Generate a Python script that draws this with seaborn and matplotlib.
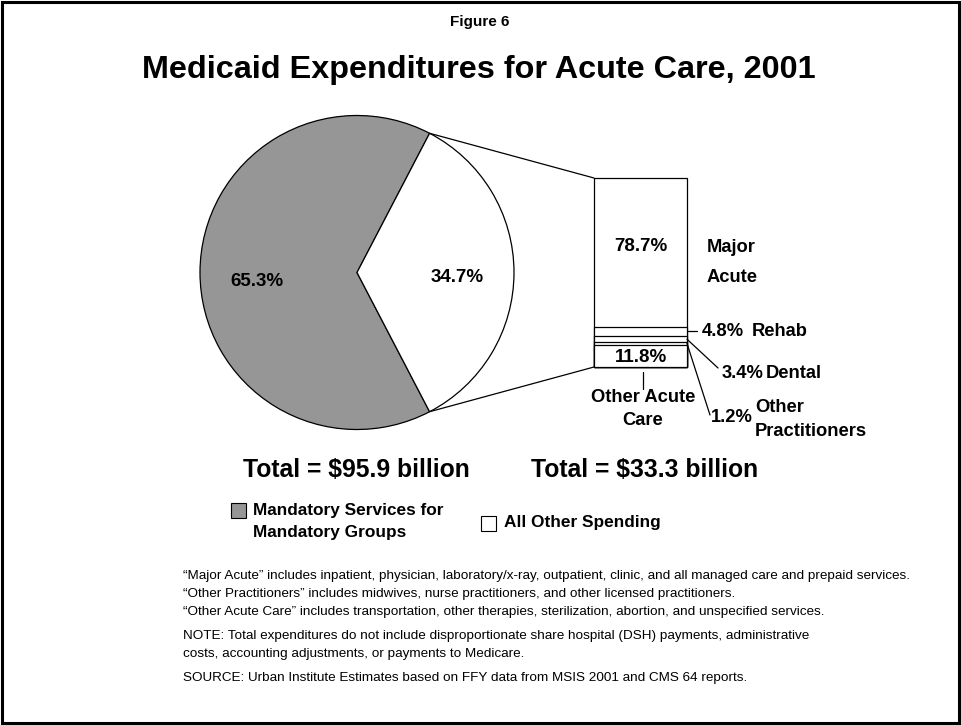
import numpy as np
import matplotlib
matplotlib.use("Agg")
import matplotlib.pyplot as plt
from matplotlib.patches import Rectangle, ConnectionPatch
from matplotlib.lines import Line2D
import seaborn as sns

# Split of total Medicaid acute care spending (pie)
pie_labels = ["Mandatory Services for\nMandatory Groups", "All Other Spending"]
pie_shares = [65.3, 34.7]
pie_total = 95.9

# Breakdown of "All Other Spending" (stacked bar, bottom to top)
bar_categories = ["Other Acute Care", "Other Practitioners", "Dental", "Rehab", "Major Acute"]
bar_shares = [11.8, 1.2, 3.4, 4.8, 78.7]
bar_total = 33.3

footnotes = [
    "\u201cMajor Acute\u201d includes inpatient, physician, laboratory/x-ray, outpatient, clinic, and all managed care and prepaid services.",
    "\u201cOther Practitioners\u201d includes midwives, nurse practitioners, and other licensed practitioners.",
    "\u201cOther Acute Care\u201d includes transportation, other therapies, sterilization, abortion, and unspecified services.",
    "NOTE: Total expenditures do not include disproportionate share hospital (DSH) payments, administrative",
    "costs, accounting adjustments, or payments to Medicare.",
    "SOURCE: Urban Institute Estimates based on FFY data from MSIS 2001 and CMS 64 reports.",
]

GRAY = "#969696"

sns.set_theme(style="white")
plt.rcParams["font.family"] = ["Liberation Sans", "DejaVu Sans"]

W, H = 961, 725
fig = plt.figure(figsize=(W / 100, H / 100), dpi=100)
fig.patch.set_facecolor("white")


def fx(x):
    return x / W


def fy(y):
    return 1 - y / H


def txt(x, y, s, size, ha="left", weight="bold", **kw):
    fig.text(fx(x), fy(y), s, fontsize=size, ha=ha, va="center",
             fontweight=weight, color="black", **kw)


def seg(p0, p1, lw=0.9):
    fig.add_artist(Line2D([fx(p0[0]), fx(p1[0])], [fy(p0[1]), fy(p1[1])],
                          transform=fig.transFigure, color="black", lw=lw))


# Outer frame
fig.add_artist(Rectangle((fx(1.5), fy(722.5)), fx(957), 1 - fy(721),
                         transform=fig.transFigure, fill=False,
                         edgecolor="black", lw=2.2))

# Titles
txt(480, 22, "Figure 6", 11, ha="center")
txt(479, 70, "Medicaid Expenditures for Acute Care, 2001", 23.3, ha="center")

# ---- Pie ----
R, cx, cy = 157, 357, 272.5
half = R * 1.1
pax = fig.add_axes([fx(cx - half), fy(cy + half), 2 * half / W, 2 * half / H])
start = pie_shares[1] / 100 * 180
wedges, _, autotexts = pax.pie(
    pie_shares, colors=[GRAY, "white"], startangle=start, counterclock=True,
    radius=1, autopct="%.1f%%", pctdistance=0.64,
    wedgeprops=dict(edgecolor="black", linewidth=0.9),
    textprops=dict(fontsize=13.5, fontweight="bold", color="black"))
pax.set_xlim(-1.1, 1.1)
pax.set_ylim(-1.1, 1.1)
pax.set_aspect("equal")
pax.axis("off")
for t, dy in zip(autotexts, [0.06, 0.03]):
    x, y = t.get_position()
    t.set_position((x, y - dy))

# ---- Stacked bar ----
bx0, bx1, by0, by1 = 594, 687, 178, 367
bax = fig.add_axes([fx(bx0), fy(by1), (bx1 - bx0) / W, (by1 - by0) / H])
cum = np.cumsum(bar_shares)
for top in cum[::-1]:
    sns.barplot(x=["All Other Spending"], y=[top], ax=bax, color="white",
                saturation=1, width=1, edgecolor="black", linewidth=0.9,
                errorbar=None, clip_on=False)
bax.set_xlim(-0.5, 0.5)
bax.set_ylim(0, cum[-1])
bax.axis("off")


def bar_py(v):
    return by1 - v / cum[-1] * (by1 - by0)


# Connector lines between the pie slice and the bar
ang = np.deg2rad(start)
for sgn, yb in [(1, cum[-1]), (-1, 0)]:
    con = ConnectionPatch(xyA=(np.cos(ang), sgn * np.sin(ang)), coordsA=pax.transData,
                          xyB=(-0.5, yb), coordsB=bax.transData,
                          color="black", lw=0.9)
    fig.add_artist(con)

lows = cum - np.array(bar_shares)
mids = lows + np.array(bar_shares) / 2

# In-bar labels
txt(641, 246, f"{bar_shares[4]}%", 13.5, ha="center")
txt(641, bar_py(mids[0]) + 1.5, f"{bar_shares[0]}%", 13.5, ha="center")

# Major Acute
txt(707, 248, "Major", 13.2)
txt(707, 278, "Acute", 13.2)

# Rehab
seg((bx1, bar_py(mids[3])), (697, bar_py(mids[3])))
txt(702, 332, f"{bar_shares[3]}%", 13.2)
txt(752, 332, "Rehab", 13.2)

# Dental
seg((bx1, bar_py(mids[2])), (718, 368))
txt(722, 374, f"{bar_shares[2]}%", 13.2)
txt(766, 374, "Dental", 13.2)

# Other Practitioners
seg((bx1, bar_py(mids[1])), (710, 415))
txt(711, 418, f"{bar_shares[1]}%", 13.2)
txt(755, 408, "Other", 13.2)
txt(755, 432, "Practitioners", 13.2)

# Other Acute Care
seg((643, 372), (643, 389))
txt(643, 397, "Other Acute", 13.2, ha="center")
txt(643, 420, "Care", 13.2, ha="center")

# Totals
txt(356, 470, f"Total = ${pie_total} billion", 17.8, ha="center")
txt(645, 470, f"Total = ${bar_total} billion", 17.8, ha="center")

# Legend
fig.add_artist(Rectangle((fx(231), fy(518)), 15 / W, 15 / H, transform=fig.transFigure,
                         facecolor=GRAY, edgecolor="black", lw=0.8))
l1, l2 = pie_labels[0].split("\n")
txt(253, 510, l1, 12.4)
txt(253, 533, l2, 12.4)
fig.add_artist(Rectangle((fx(481), fy(531)), 15 / W, 15 / H, transform=fig.transFigure,
                         facecolor="white", edgecolor="black", lw=0.8))
txt(504, 523, pie_labels[1], 12.4)

# Footnotes
for s, y in zip(footnotes, [576, 594, 612, 636, 654, 678]):
    txt(183, y, s, 9.7, weight="normal")

fig.savefig("out.png", dpi=100)
